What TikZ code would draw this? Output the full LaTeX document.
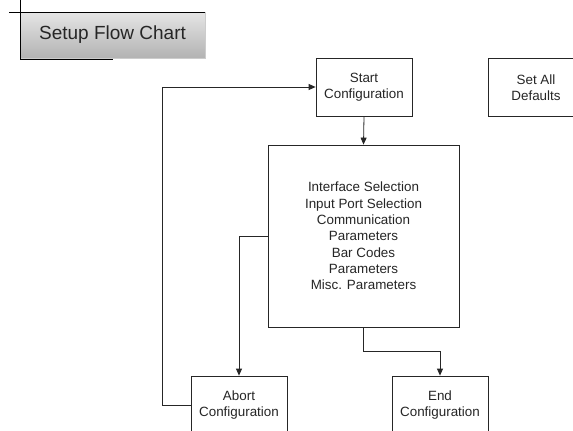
\documentclass[tikz,border=0pt]{standalone}
\usepackage{fontspec}
\setmainfont{Liberation Sans}
\usetikzlibrary{arrows.meta}
\begin{document}
\begin{tikzpicture}[x=1pt,y=-1pt,
  box/.style={draw=black!85, line width=0.8pt, fill=white, minimum width=96pt, minimum height=58pt, inner sep=0pt, align=center, text=black!85, font=\fontsize{13.4}{16.3}\selectfont},
  conn/.style={draw=black!85, line width=0.8pt},
  arr/.style={conn, -{Triangle[length=7pt,width=6pt]}},
  edge/.style={draw=black, line width=0.8pt}]
\useasboundingbox (0,0) rectangle (573,431);
\clip (0,0) rectangle (573,431);
\fill[white] (0,0) rectangle (573,431);
% title
\node[minimum width=185pt, minimum height=46pt, inner sep=0pt, top color=gray!20, bottom color=gray!60, draw=gray!40, line width=0.6pt, font=\fontsize{19}{22}\selectfont, text=black!85] (title) at (112.5,35) {Setup Flow Chart};
\coordinate (tl1) at (9,12);
\coordinate (tl2) at (205,12);
\coordinate (vl1) at (20,0);
\coordinate (vl2) at (20,59);
\coordinate (bl2) at (113,59);
\draw[edge] (tl1) -- (tl2);
\draw[edge] (vl1) -- (vl2) -- (bl2);
% boxes
\node[box] (start) at (364,87) {Start\\Configuration};
\node[box] (defaults) at (536,87.5) {Set All\\Defaults};
\node[box, minimum width=191pt, minimum height=182pt] (big) at (363.5,236) {Interface Selection\\Input Port Selection\\Communication\\Parameters\\Bar Codes\\Parameters\\Misc. Parameters};
\node[box] (abort) at (239,405) {Abort\\Configuration};
\node[box] (end) at (440,405) {End\\Configuration};
% connectors
\draw[arr] (start.south) -- (big.north);
\draw[arr] (big.west) -| (abort.north);
\draw[arr] (big.south) -- ++(0,24) -| (end.north);
\draw[arr] (abort.west) -- ++(-28,0) |- (start.west);
\end{tikzpicture}
\end{document}
